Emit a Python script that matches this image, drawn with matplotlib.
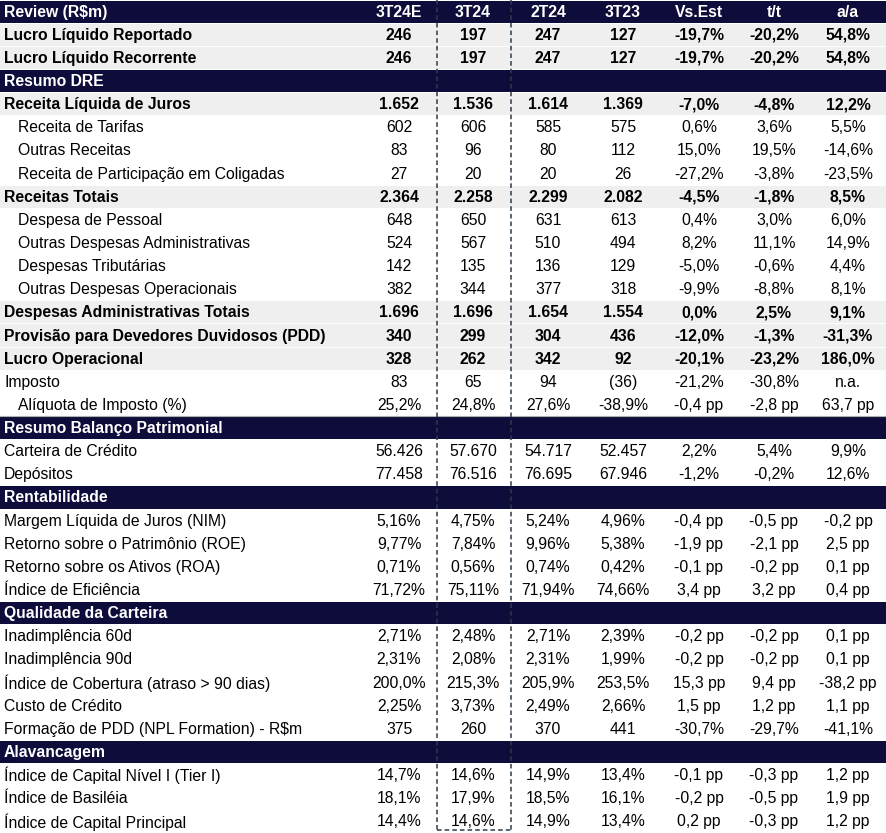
import matplotlib.pyplot as plt
from matplotlib.patches import Rectangle

plt.rcParams["font.family"] = ["Liberation Sans", "DejaVu Sans"]

# > Table content
col_headers = ["3T24E", "3T24", "2T24", "3T23", "Vs.Est", "t/t", "a/a"]

row_labels = [
    "Review (R$m)", "Lucro Líquido Reportado", "Lucro Líquido Recorrente",
    "Resumo DRE", "Receita Líquida de Juros", "Receita de Tarifas",
    "Outras Receitas", "Receita de Participação em Coligadas", "Receitas Totais",
    "Despesa de Pessoal", "Outras Despesas Administrativas", "Despesas Tributárias",
    "Outras Despesas Operacionais", "Despesas Administrativas Totais",
    "Provisão para Devedores Duvidosos (PDD)", "Lucro Operacional", "Imposto",
    "Alíquota de Imposto (%)", "Resumo Balanço Patrimonial", "Carteira de Crédito",
    "Depósitos", "Rentabilidade", "Margem Líquida de Juros (NIM)",
    "Retorno sobre o Patrimônio (ROE)", "Retorno sobre os Ativos (ROA)",
    "Índice de Eficiência", "Qualidade da Carteira", "Inadimplência 60d",
    "Inadimplência 90d", "Índice de Cobertura (atraso > 90 dias)", "Custo de Crédito",
    "Formação de PDD (NPL Formation) - R$m", "Alavancagem",
    "Índice de Capital Nível I (Tier I)", "Índice de Basiléia", "Índice de Capital Principal",
]

# hdr = dark section bar, bold = grey highlighted total, sub = indented, plain = normal
row_kind = [
    "hdr", "bold", "bold", "hdr", "bold", "sub", "sub", "sub", "bold",
    "sub", "sub", "sub", "sub", "bold", "bold", "bold", "plain", "sub",
    "hdr", "plain", "plain", "hdr", "plain", "plain", "plain", "plain", "hdr",
    "plain", "plain", "plain", "plain", "plain", "hdr", "plain", "plain", "plain",
]

est_3t24e = ["", "246", "246", "", "1.652", "602", "83", "27", "2.364", "648", "524", "142",
             "382", "1.696", "340", "328", "83", "25,2%", "", "56.426", "77.458", "",
             "5,16%", "9,77%", "0,71%", "71,72%", "", "2,71%", "2,31%", "200,0%", "2,25%",
             "375", "", "14,7%", "18,1%", "14,4%"]
real_3t24 = ["", "197", "197", "", "1.536", "606", "96", "20", "2.258", "650", "567", "135",
             "344", "1.696", "299", "262", "65", "24,8%", "", "57.670", "76.516", "",
             "4,75%", "7,84%", "0,56%", "75,11%", "", "2,48%", "2,08%", "215,3%", "3,73%",
             "260", "", "14,6%", "17,9%", "14,6%"]
q_2t24 = ["", "247", "247", "", "1.614", "585", "80", "20", "2.299", "631", "510", "136",
          "377", "1.654", "304", "342", "94", "27,6%", "", "54.717", "76.695", "",
          "5,24%", "9,96%", "0,74%", "71,94%", "", "2,71%", "2,31%", "205,9%", "2,49%",
          "370", "", "14,9%", "18,5%", "14,9%"]
q_3t23 = ["", "127", "127", "", "1.369", "575", "112", "26", "2.082", "613", "494", "129",
          "318", "1.554", "436", "92", "(36)", "-38,9%", "", "52.457", "67.946", "",
          "4,96%", "5,38%", "0,42%", "74,66%", "", "2,39%", "1,99%", "253,5%", "2,66%",
          "441", "", "13,4%", "16,1%", "13,4%"]
vs_est = ["", "-19,7%", "-19,7%", "", "-7,0%", "0,6%", "15,0%", "-27,2%", "-4,5%", "0,4%",
          "8,2%", "-5,0%", "-9,9%", "0,0%", "-12,0%", "-20,1%", "-21,2%", "-0,4 pp", "",
          "2,2%", "-1,2%", "", "-0,4 pp", "-1,9 pp", "-0,1 pp", "3,4 pp", "", "-0,2 pp",
          "-0,2 pp", "15,3 pp", "1,5 pp", "-30,7%", "", "-0,1 pp", "-0,2 pp", "0,2 pp"]
t_t = ["", "-20,2%", "-20,2%", "", "-4,8%", "3,6%", "19,5%", "-3,8%", "-1,8%", "3,0%",
       "11,1%", "-0,6%", "-8,8%", "2,5%", "-1,3%", "-23,2%", "-30,8%", "-2,8 pp", "",
       "5,4%", "-0,2%", "", "-0,5 pp", "-2,1 pp", "-0,2 pp", "3,2 pp", "", "-0,2 pp",
       "-0,2 pp", "9,4 pp", "1,2 pp", "-29,7%", "", "-0,3 pp", "-0,5 pp", "-0,3 pp"]
a_a = ["", "54,8%", "54,8%", "", "12,2%", "5,5%", "-14,6%", "-23,5%", "8,5%", "6,0%",
       "14,9%", "4,4%", "8,1%", "9,1%", "-31,3%", "186,0%", "n.a.", "63,7 pp", "",
       "9,9%", "12,6%", "", "-0,2 pp", "2,5 pp", "0,1 pp", "0,4 pp", "", "0,1 pp",
       "0,1 pp", "-38,2 pp", "1,1 pp", "-41,1%", "", "1,2 pp", "1,9 pp", "1,2 pp"]

columns = [est_3t24e, real_3t24, q_2t24, q_3t23, vs_est, t_t, a_a]

# > Layout (pixel units)
W, H = 886, 833
n_rows = len(row_labels)
row_h = H / n_rows
col_x = [399, 473, 548, 623, 699, 774, 848]
box_left, box_right = 437, 511
FS = 11.3

NAVY = "#0d0c3a"
GREY = "#efefef"

fig = plt.figure(figsize=(W / 100, H / 100), dpi=100)
ax = fig.add_axes([0, 0, 1, 1])
ax.set_xlim(0, W)
ax.set_ylim(H, 0)
ax.axis("off")

for i, (label, kind) in enumerate(zip(row_labels, row_kind)):
    top = i * row_h
    yc = top + row_h / 2 + 0.5
    if kind == "hdr":
        ax.add_patch(Rectangle((0, top + 0.5), W, row_h - 1, color=NAVY, lw=0))
        ax.text(4, yc, label, color="white", fontsize=FS, fontweight="bold",
                va="center", ha="left")
        if i == 0:
            for x, h in zip(col_x, col_headers):
                ax.text(x, yc, h, color="white", fontsize=FS, fontweight="bold",
                        va="center", ha="center")
        continue

    if kind == "bold":
        ax.add_patch(Rectangle((0, top + 0.5), W, row_h - 1, color=GREY, lw=0))

    weight = "bold" if kind == "bold" else "normal"
    indent = 18 if kind == "sub" else 4
    ax.text(indent, yc, label, color="black", fontsize=FS, fontweight=weight,
            va="center", ha="left")
    for x, col in zip(col_x, columns):
        ax.text(x, yc, col[i], color="black", fontsize=FS, fontweight=weight,
                va="center", ha="center")

# thin rule under the tax rate row
ax.plot([0, W], [18 * row_h - 0.5, 18 * row_h - 0.5], color="#b0b0b0", lw=0.8)

# dashed box around the reported quarter
dash = dict(color="#2b3a48", lw=1.1, ls=(0, (3, 2)))
ax.plot([box_left, box_left], [0, H - 3], **dash)
ax.plot([box_right, box_right], [0, H - 3], **dash)
ax.plot([box_left, box_right], [H - 3, H - 3], **dash)

fig.savefig("out.png", dpi=100)
